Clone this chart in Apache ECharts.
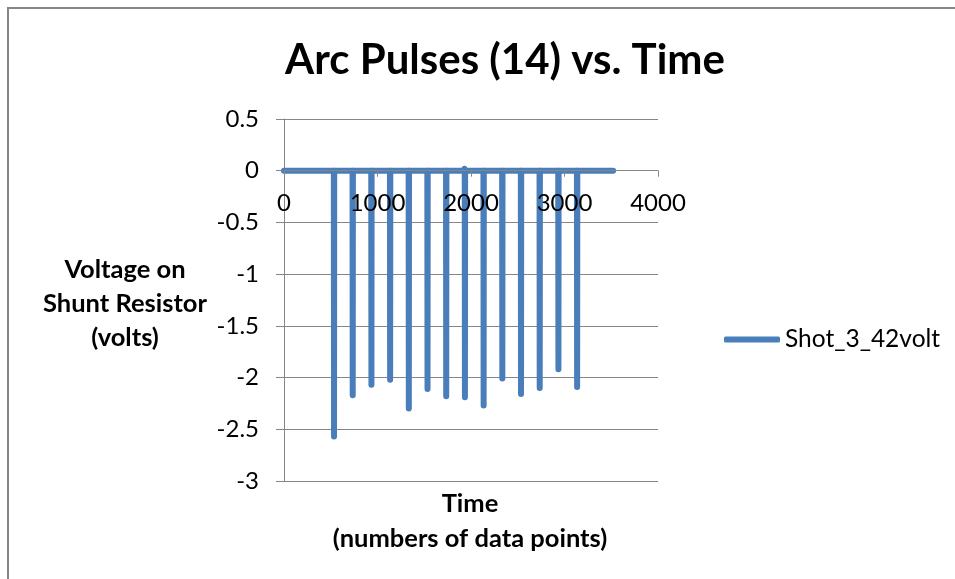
<!DOCTYPE html>
<html>
<head>
<meta charset="utf-8">
<script src="https://cdn.jsdelivr.net/npm/echarts@6/dist/echarts.min.js"></script>
<style>
  html, body { margin: 0; padding: 0; background: #fff; }
  #chart { width: 955px; height: 579px; }
</style>
</head>
<body>
<div id="chart"></div>
<script>
// Arc pulse recording: baseline samples plus 14 negative pulses
const seriesName = 'Shot_3_42volt';
const baselineTimes = [0, 1929, 1931, 3520];
const baselineVolts = [0, 0, 0.02, 0];
const pulseTimes = [535, 735, 935, 1135, 1335, 1535, 1735, 1935, 2135, 2335, 2535, 2735, 2935, 3135];
const pulseVolts = [-2.57, -2.17, -2.07, -2.02, -2.30, -2.11, -2.18, -2.19, -2.27, -2.01, -2.16, -2.10, -1.92, -2.09];
const xTicks = [0, 1000, 2000, 3000, 4000];
const yTicks = [-3, -2.5, -2, -1.5, -1, -0.5, 0, 0.5];

// Assemble the sample sequence: each pulse drops from 0 and returns to 0
const points = [];
baselineTimes.forEach((t, i) => points.push([t, baselineVolts[i]]));
pulseTimes.forEach((t, i) => {
  points.push([t - 2, 0]);
  points.push([t, pulseVolts[i]]);
  points.push([t + 2, 0]);
});
points.sort((a, b) => a[0] - b[0]);

const FONT = 'Lato, "Open Sans", sans-serif';
const grey = '#868686';
const blue = '#4a7ebb';

// Plot box and where the horizontal axis crosses the vertical one (at 0 V)
const gridTop = 119, gridBottom = 98, chartH = 579;
const plotH = chartH - gridTop - gridBottom;
const yMin = yTicks[0], yMax = yTicks[yTicks.length - 1];
const zeroFromBottom = plotH * (0 - yMin) / (yMax - yMin);

const chart = echarts.init(document.getElementById('chart'), null, { renderer: 'canvas' });
chart.setOption({
  animation: false,
  backgroundColor: '#fff',
  title: {
    text: 'Arc Pulses (14) vs. Time',
    left: 500,
    textAlign: 'center',
    top: 34,
    textStyle: { fontFamily: FONT, fontSize: 42, fontWeight: 'bold', color: '#000' }
  },
  legend: {
    data: [seriesName],
    left: 719,
    top: 322,
    icon: 'roundRect',
    itemWidth: 56,
    itemHeight: 6,
    textStyle: { fontFamily: FONT, fontSize: 24.5, color: '#000' }
  },
  grid: { left: 284, right: 297, top: gridTop, bottom: gridBottom },
  xAxis: {
    type: 'value',
    min: xTicks[0],
    max: xTicks[xTicks.length - 1],
    interval: 1000,
    position: 'bottom',
    offset: -zeroFromBottom,
    z: 5,
    axisLine: { onZero: false, lineStyle: { color: grey, width: 1 } },
    axisTick: { show: true, length: 6, lineStyle: { color: grey } },
    axisLabel: { margin: 21, fontFamily: FONT, fontSize: 24, color: '#000',
                 formatter: v => String(v) },
    splitLine: { show: false }
  },
  yAxis: {
    type: 'value',
    min: yMin,
    max: yMax,
    interval: 0.5,
    axisLine: { show: true, onZero: false, lineStyle: { color: grey, width: 1 } },
    axisTick: { show: true, length: 8, lineStyle: { color: grey } },
    axisLabel: { margin: 25, fontFamily: FONT, fontSize: 24, color: '#000',
                 formatter: v => String(v) },
    splitLine: { show: true, lineStyle: { color: grey, width: 1 } }
  },
  graphic: [
    {
      type: 'rect',
      shape: { x: 8, y: 8, width: 1200, height: 800 },
      style: { fill: 'none', stroke: grey, lineWidth: 2 },
      silent: true
    },
    {
      type: 'text',
      x: 125, y: 304,
      style: {
        text: 'Voltage on\nShunt Resistor\n(volts)',
        fontFamily: FONT, fontSize: 25.5, fontWeight: 'bold', fill: '#000',
        align: 'center', verticalAlign: 'middle', lineHeight: 34
      }
    },
    {
      type: 'text',
      x: 470, y: 521,
      style: {
        text: 'Time\n(numbers of data points)',
        fontFamily: FONT, fontSize: 25.5, fontWeight: 'bold', fill: '#000',
        align: 'center', verticalAlign: 'middle', lineHeight: 35
      }
    }
  ],
  series: [{
    name: seriesName,
    type: 'line',
    z: 2,
    data: points,
    showSymbol: false,
    symbol: 'none',
    lineStyle: { color: blue, width: 6, cap: 'round', join: 'round' },
    itemStyle: { color: blue }
  }]
});
</script>
</body>
</html>
